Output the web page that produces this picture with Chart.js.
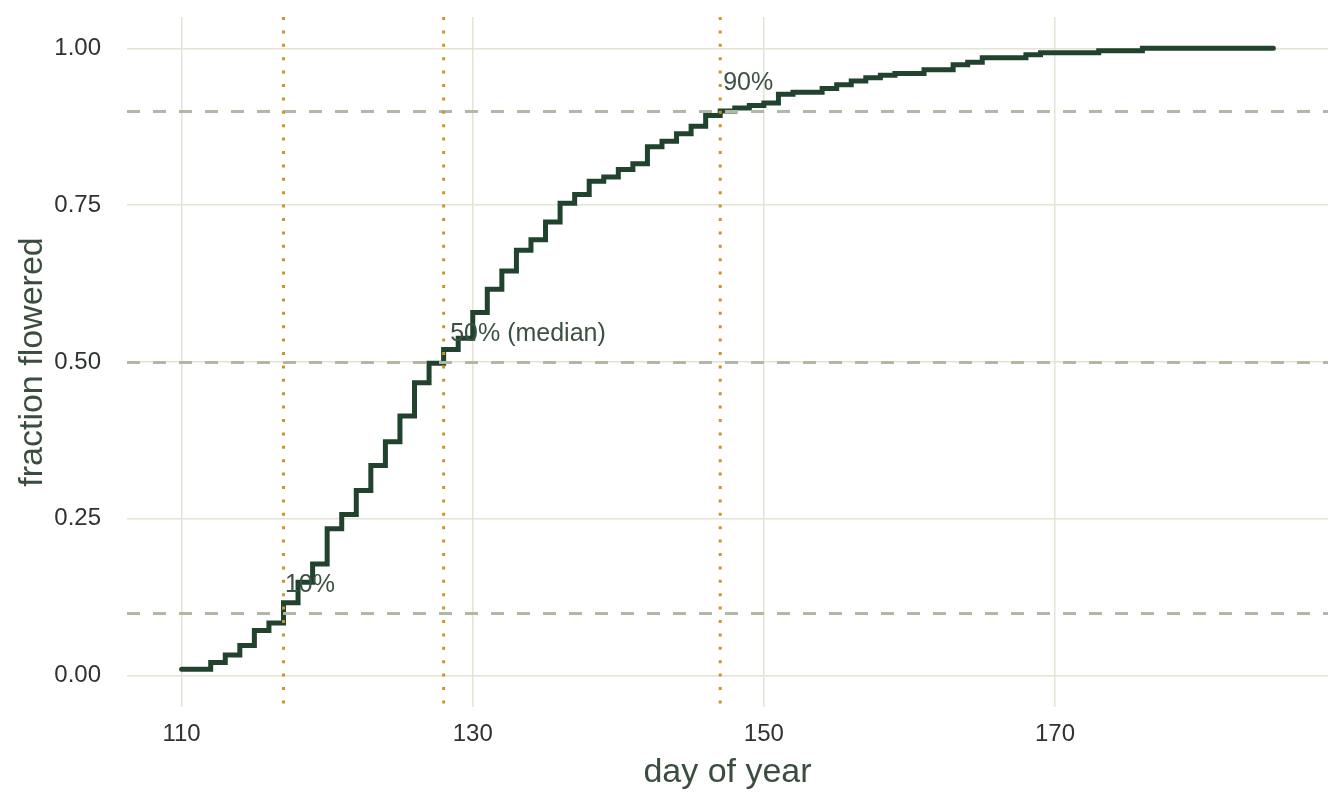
<!DOCTYPE html>
<html>
<head>
<meta charset="utf-8">
<script src="https://cdn.jsdelivr.net/npm/chart.js@4.4.1/dist/chart.umd.min.js"></script>
<style>
  html, body { margin: 0; padding: 0; background: #ffffff; }
  #wrap { width: 1344px; height: 806px; }
</style>
</head>
<body>
<div id="wrap"><canvas id="c" width="1344" height="806"></canvas></div>
<script>
// ---- data ----
const days = [110,111,112,113,114,115,116,117,118,119,120,121,122,123,124,125,126,127,128,129,
              130,131,132,133,134,135,136,137,138,139,140,141,142,143,144,145,146,147,148,149,
              150,151,152,153,154,155,156,157,158,159,160,161,162,163,164,165,166,167,168,169,
              170,171,172,173,174,175,176,177,178,179,180,181,182,183,184,185];
const fractionFlowered = [0.010,0.010,0.021,0.033,0.048,0.072,0.084,0.116,0.149,0.178,0.234,0.257,0.295,0.335,0.373,0.414,0.467,0.498,0.520,0.538,
              0.579,0.616,0.645,0.678,0.695,0.723,0.753,0.767,0.788,0.795,0.807,0.816,0.843,0.852,0.864,0.876,0.893,0.900,0.905,0.909,
              0.913,0.927,0.930,0.930,0.936,0.942,0.948,0.953,0.957,0.960,0.960,0.966,0.966,0.974,0.978,0.985,0.985,0.985,0.990,0.993,
              0.993,0.993,0.993,0.996,0.996,0.996,1.000,1.000,1.000,1.000,1.000,1.000,1.000,1.000,1.000,1.000];
const quantileLevels = [0.10, 0.50, 0.90];
const quantileDays   = [117, 128, 147];
const quantileLabels = ['10%', '50% (median)', '90%'];
const labelDays      = [117.1, 128.45, 147.2];
const xTicks = [110, 130, 150, 170];
const yTicks = [0.00, 0.25, 0.50, 0.75, 1.00];

// ---- styles ----
const FONT = '"Liberation Sans", Arial, Helvetica, sans-serif';
const GRID = '#e4e4d6';
const LINE = '#21432d';

const refPlugin = {
  id: 'refLines',
  afterDatasetsDraw(chart) {
    const { ctx, chartArea, scales } = chart;
    const { left, right, top, bottom } = chartArea;
    const x = scales.x, y = scales.y;
    ctx.save();
    // horizontal dashed reference lines
    ctx.strokeStyle = '#b0b9a6';
    ctx.lineWidth = 3;
    ctx.setLineDash([13, 13]);
    quantileLevels.forEach(q => {
      const py = Math.round(y.getPixelForValue(q)) + 0.5;
      ctx.beginPath(); ctx.moveTo(left, py); ctx.lineTo(right, py); ctx.stroke();
    });
    // vertical dotted quantile lines
    ctx.strokeStyle = '#cc9429';
    ctx.lineWidth = 3;
    ctx.setLineDash([3, 10.4]);
    quantileDays.forEach(d => {
      const px = x.getPixelForValue(d);
      ctx.beginPath(); ctx.moveTo(px, top); ctx.lineTo(px, bottom); ctx.stroke();
    });
    ctx.setLineDash([]);
    // labels
    ctx.fillStyle = '#3b5242';
    ctx.font = '25px ' + FONT;
    ctx.textAlign = 'left';
    ctx.textBaseline = 'alphabetic';
    quantileLabels.forEach((t, i) => {
      ctx.fillText(t, x.getPixelForValue(labelDays[i]), y.getPixelForValue(quantileLevels[i] + 0.034));
    });
    ctx.restore();
  }
};

new Chart(document.getElementById('c'), {
  type: 'line',
  data: {
    datasets: [{
      data: days.map((d, i) => ({ x: d, y: fractionFlowered[i] })),
      borderColor: LINE,
      borderWidth: 5,
      stepped: 'before',
      pointRadius: 0,
      fill: false,
      borderCapStyle: 'round',
      borderJoinStyle: 'miter'
    }]
  },
  options: {
    responsive: false,
    animation: false,
    devicePixelRatio: 1,
    layout: { padding: { top: 17, right: 16, left: 0, bottom: 0 } },
    plugins: { legend: { display: false }, tooltip: { enabled: false } },
    scales: {
      x: {
        type: 'linear',
        min: 106.25, max: 188.75,
        afterBuildTicks: s => { s.ticks = xTicks.map(v => ({ value: v })); },
        afterFit: s => { s.height = 99; s.paddingLeft = 0; s.paddingRight = 0; },
        grid: { color: GRID, lineWidth: 1.5, drawTicks: false },
        border: { display: false },
        ticks: { color: '#2e332f', font: { family: FONT, size: 24 }, padding: 13, maxRotation: 0,
                 callback: v => String(v) },
        title: { display: true, text: 'day of year', color: '#3a4d3e',
                 font: { family: FONT, size: 34 }, padding: { top: 0, bottom: 13 } }
      },
      y: {
        type: 'linear',
        min: -0.05, max: 1.05,
        afterBuildTicks: s => { s.ticks = yTicks.map(v => ({ value: v })); },
        afterFit: s => { s.width = 127; s.paddingTop = 0; s.paddingBottom = 0; },
        grid: { color: GRID, lineWidth: 1.5, drawTicks: false },
        border: { display: false },
        ticks: { color: '#2e332f', font: { family: FONT, size: 24 }, padding: 26,
                 callback: v => Number(v).toFixed(2) },
        title: { display: true, text: 'fraction flowered', color: '#3a4d3e',
                 font: { family: FONT, size: 34 }, padding: { top: 12, bottom: 0 } }
      }
    }
  },
  plugins: [refPlugin]
});
</script>
</body>
</html>
